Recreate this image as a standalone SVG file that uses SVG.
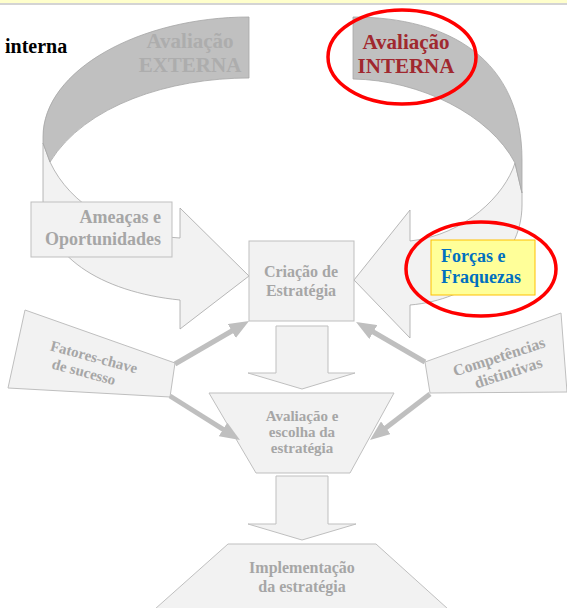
<svg xmlns="http://www.w3.org/2000/svg" width="567" height="608" viewBox="0 0 567 608">
<defs>
<style>
.band{fill:#C0C0C0;stroke:#A6A6A6;stroke-width:0.8}
.light{fill:#F2F2F2;stroke:#A6A6A6;stroke-width:0.8}
.box{fill:#F2F2F2;stroke:#BFBFBF;stroke-width:1}
.t{font-family:"Liberation Serif","Times New Roman",serif;font-weight:bold;fill:#A6A6A6}
.red{fill:none;stroke:#FF0000;stroke-width:3.5}
.conn{stroke:#BFBFBF;stroke-width:5;fill:none}
</style>
<marker id="ah" markerUnits="userSpaceOnUse" viewBox="0 0 20 16" markerWidth="20" markerHeight="16" refX="10" refY="8" orient="auto">
<path d="M0,0 L20,8 L0,16 Z" fill="#BFBFBF"/>
</marker>
</defs>
<rect x="0" y="0" width="567" height="608" fill="#FFFFFF"/>
<rect x="0" y="0" width="567" height="3" fill="#FFFFCC"/>
<line x1="0" y1="4" x2="567" y2="4" stroke="#D4D4D4" stroke-width="2"/>

<text x="5" y="53" style="font-family:'Liberation Serif','Times New Roman',serif;font-weight:bold" font-size="20" fill="#000000">interna</text>

<g id="avaliacao-externa">
<path class="light" d="M43,143 L43,200 C43,255 100,292 180,300 L180,329 L249,276 L180,208 L180,238 C120,235 70,205 50,162 Z"/>
<path class="band" d="M249,17 C140,17 43,70 43,137 L43,143 L50,162 C85,105 170,78 249,78 Z"/>
<text class="t" font-size="21" text-anchor="middle" style="fill:#ADADAD"><tspan x="190" y="48">Avaliação</tspan><tspan x="190" y="72">EXTERNA</tspan></text>
</g>

<g id="avaliacao-interna">
<path class="light" d="M515,163 L522,193 L522,205 C522,260 470,300 410,305 L410,338 L354,280 L410,210 L410,241 C465,235 505,195 515,163 Z"/>
<path class="band" d="M353,17 C450,17 522,60 522,160 L522,193 L515,163 C490,115 420,80 353,79 Z"/>
<text class="t" font-size="21" text-anchor="middle" style="fill:#A0282F"><tspan x="406" y="49">Avaliação</tspan><tspan x="406" y="73">INTERNA</tspan></text>
<ellipse class="red" cx="402" cy="57" rx="74" ry="47"/>
</g>

<g id="ameacas">
<rect class="box" x="31" y="202" width="141" height="55"/>
<text class="t" font-size="18" text-anchor="end"><tspan x="161" y="223">Ameaças e</tspan><tspan x="161" y="245">Oportunidades</tspan></text>
</g>

<g id="forcas">
<rect x="431" y="240" width="104" height="55" fill="#FFFF99" stroke="#FFC000" stroke-width="1"/>
<text style="font-family:'Liberation Serif','Times New Roman',serif;font-weight:bold" font-size="18" fill="#0070C0"><tspan x="441" y="262">Forças e</tspan><tspan x="441" y="283">Fraquezas</tspan></text>
<ellipse class="red" cx="481" cy="269" rx="75" ry="47"/>
</g>

<g id="criacao">
<rect class="box" x="249" y="241" width="105" height="80"/>
<text class="t" font-size="16" text-anchor="middle"><tspan x="301" y="277">Criação de</tspan><tspan x="301" y="296">Estratégia</tspan></text>
</g>

<g id="seta-1">
<path class="box" d="M276,326 L328,326 L328,373 L355,373 L302,389 L248,373 L276,373 Z"/>
</g>

<g id="avaliacao-escolha">
<path class="box" d="M209,393 L394,393 L350,473 L256,473 Z"/>
<text class="t" font-size="15" text-anchor="middle"><tspan x="302" y="421">Avaliação e</tspan><tspan x="302" y="437">escolha da</tspan><tspan x="302" y="453">estratégia</tspan></text>
</g>

<g id="seta-2">
<path class="box" d="M276,476 L328,476 L328,524 L356,524 L302,540 L248,524 L276,524 Z"/>
</g>

<g id="implementacao">
<path class="box" d="M228,544 L376,544 L448,609 L155,609 Z"/>
<text class="t" font-size="16" text-anchor="middle"><tspan x="302" y="573">Implementação</tspan><tspan x="302" y="592">da estratégia</tspan></text>
</g>

<g id="fatores">
<path class="box" d="M25,310 L175,363 L170,397 L8,388 Z"/>
<text class="t" font-size="15" text-anchor="middle" transform="rotate(15 94 357)"><tspan x="94" y="362">Fatores-chave</tspan><tspan x="88" y="379">de sucesso</tspan></text>
</g>

<g id="competencias">
<path class="box" d="M425,362 L561,313 L567,392 L430,393 Z"/>
<text class="t" font-size="16" text-anchor="middle" transform="rotate(-18 499 357)"><tspan x="499" y="362">Competências</tspan><tspan x="503" y="380">distintivas</tspan></text>
</g>

<g id="connectors">
<line class="conn" x1="175" y1="364" x2="240.4" y2="326" marker-end="url(#ah)"/>
<line class="conn" x1="170" y1="396" x2="231.5" y2="434.7" marker-end="url(#ah)"/>
<line class="conn" x1="425" y1="362" x2="364.7" y2="327" marker-end="url(#ah)"/>
<line class="conn" x1="430" y1="394" x2="377.9" y2="433.9" marker-end="url(#ah)"/>
</g>
</svg>
